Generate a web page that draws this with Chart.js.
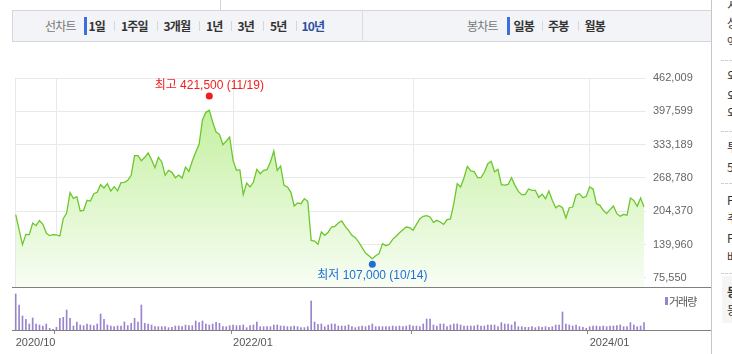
<!DOCTYPE html>
<html lang="ko">
<head>
<meta charset="utf-8">
<title>주가 차트</title>
<script src="https://cdn.jsdelivr.net/npm/chart.js@4.4.1/dist/chart.umd.min.js"></script>
<style>
  html, body { margin: 0; padding: 0; background: #fff; }
  body { width: 732px; height: 354px; overflow: hidden; position: relative;
         font-family: "Noto Sans CJK KR", "Liberation Sans", sans-serif; }
  .abs { position: absolute; }
  .tabbar { left: 12px; top: 10px; width: 700px; height: 32px; box-sizing: border-box;
            border: 1px solid #d3d6dc; background: #f3f4f7; }
  .tab { top: 10px; line-height: 32px; font-size: 12px; font-weight: bold; color: #333;
         letter-spacing: -0.8px; white-space: nowrap; }
  .tab.title { font-weight: normal; color: #777; }
  .tab.on { color: #2f4ea3; }
  .sep { top: 21px; width: 1px; height: 10px; background: #d6d6d6; }
  .mark { top: 17px; width: 3px; height: 18px; background: #3b6fd9; }
  .side { left: 727px; font-size: 12px; color: #333; line-height: 16px; white-space: nowrap; }
  .dash { left: 721px; width: 11px; height: 0; border-top: 1px dashed #cfcfcf; }
  .hline { left: 12px; width: 699px; height: 1px; background: #808080; }
  #priceWrap { left: 0; top: 44px; width: 711px; height: 310px; }
  #volWrap { left: 0; top: 288px; width: 711px; height: 66px; }
  canvas { display: block; }
</style>
</head>
<body>
<div class="abs" style="left:220px;top:0;width:1px;height:10px;background:#d6d6d6"></div>
<div class="abs tabbar"></div>
<div class="abs" style="left:362px;top:10px;width:1px;height:32px;background:#dcdde1"></div>

<span class="abs tab title" style="left:45px">선차트</span>
<div class="abs mark" style="left:84px"></div>
<span class="abs tab" style="left:88.5px">1일</span>
<div class="abs sep" style="left:114px"></div>
<span class="abs tab" style="left:121px">1주일</span>
<div class="abs sep" style="left:157px"></div>
<span class="abs tab" style="left:163.5px">3개월</span>
<div class="abs sep" style="left:199px"></div>
<span class="abs tab" style="left:206px">1년</span>
<div class="abs sep" style="left:231px"></div>
<span class="abs tab" style="left:237.5px">3년</span>
<div class="abs sep" style="left:263px"></div>
<span class="abs tab" style="left:270px">5년</span>
<div class="abs sep" style="left:296px"></div>
<span class="abs tab on" style="left:301.5px">10년</span>

<span class="abs tab title" style="left:467px">봉차트</span>
<div class="abs mark" style="left:507px"></div>
<span class="abs tab" style="left:513.5px">일봉</span>
<div class="abs sep" style="left:542px"></div>
<span class="abs tab" style="left:548px">주봉</span>
<div class="abs sep" style="left:578px"></div>
<span class="abs tab" style="left:584.5px">월봉</span>

<div class="abs" style="left:711px;top:0;width:1px;height:354px;background:#c6c6c6"></div>
<div class="abs" style="left:722px;top:276px;width:10px;height:47px;background:#f5f5f5"></div>
<div class="abs side" style="top:-3px">시가총액순위</div>
<div class="abs side" style="top:15px">상장주식수</div>
<div class="abs side" style="top:34px">액면가</div>
<div class="abs dash" style="top:60px"></div>
<div class="abs side" style="top:68px">외국인한도주식수</div>
<div class="abs side" style="top:88px">외국인보유주식수</div>
<div class="abs side" style="top:105px">외국인소진율</div>
<div class="abs dash" style="top:131px"></div>
<div class="abs side" style="top:139px">투자의견</div>
<div class="abs side" style="top:159px">52주최고</div>
<div class="abs dash" style="top:183px"></div>
<div class="abs side" style="top:192px">PER</div>
<div class="abs side" style="top:210px">추정PER</div>
<div class="abs side" style="top:230px">PBR</div>
<div class="abs side" style="top:249px">배당수익률</div>
<div class="abs dash" style="top:273px"></div>
<div class="abs side" style="top:284px;font-weight:bold">동일업종 PER</div>
<div class="abs side" style="top:302px">동일업종 등락률</div>

<div class="abs" id="priceWrap"><canvas id="priceChart" width="711" height="310"></canvas></div>
<div class="abs" id="volWrap"><canvas id="volChart" width="711" height="66"></canvas></div>
<div class="abs hline" style="top:287px"></div>
<div class="abs hline" style="top:330px"></div>
<div class="abs" style="left:665px;top:297px;width:3px;height:8px;background:#9a84cc"></div>
<span class="abs" style="left:669px;top:293px;line-height:16px;font-size:11px;color:#555;letter-spacing:-1px">거래량</span>

<script>
// weekly close, from the week of 2020-10-12
const prices = [
    197900, 168900, 140000, 159900, 159300, 181800, 176700, 186400, 179300, 162500,
    157400, 159300, 158700, 156700, 190200, 201100, 240400, 229500, 232700, 205000,
    206300, 225600, 224300, 238500, 241100, 255900, 249500, 257900, 243700, 252000,
    244000, 259800, 260400, 264300, 273900, 311900, 311900, 302300, 308700, 317100,
    304200, 288700, 308700, 300300, 274000, 283600, 279700, 269400, 274600, 268800,
    290000, 281700, 301600, 318400, 333800, 381500, 395700, 399500, 377000, 357700,
    353200, 333200, 340300, 348000, 302900, 283600, 284900, 236600, 259100, 251400,
    261000, 285500, 277000, 283600, 284900, 299700, 320900, 283600, 292000, 254600,
    251400, 241700, 214700, 220500, 219200, 228800, 223700, 148300, 147000, 140600,
    164400, 158000, 164000, 174100, 175400, 181800, 185700, 175400, 167700, 158000,
    153500, 145100, 134200, 123900, 118700, 113000, 118700, 122600, 141900, 138000,
    140600, 150300, 156100, 163100, 168900, 174100, 172800, 167700, 179300, 190200,
    194700, 196000, 193400, 183100, 187000, 183800, 179300, 188300, 189600, 219200,
    258000, 251400, 269400, 291300, 282300, 281000, 269400, 269400, 280400, 296500,
    301000, 281000, 285500, 255900, 255200, 256500, 269400, 254600, 243000, 236600,
    236600, 247500, 245000, 245000, 231400, 237500, 228800, 243700, 225600, 211400,
    215800, 211400, 191500, 211400, 212700, 235900, 238500, 230800, 233400, 251400,
    247500, 219200, 216000, 206300, 199900, 207600, 214700, 199900, 194700, 198600,
    196700, 230100, 225600, 214000, 230100, 212700
];

// weekly volume (만주)
const volumes = [
    1260, 875, 490, 373, 210, 420, 210, 175, 140, 210,
    58, 23, 93, 408, 443, 700, 408, 140, 280, 175,
    152, 210, 175, 152, 210, 560, 373, 175, 140, 117,
    140, 140, 280, 152, 233, 408, 280, 875, 233, 210,
    175, 117, 117, 117, 117, 82, 93, 140, 140, 117,
    175, 152, 152, 315, 257, 315, 210, 175, 210, 268,
    233, 117, 117, 152, 175, 152, 152, 175, 82, 152,
    175, 280, 117, 117, 117, 117, 175, 175, 140, 140,
    117, 117, 140, 117, 82, 82, 117, 1015, 280, 198,
    210, 117, 175, 210, 210, 140, 140, 140, 175, 117,
    82, 117, 140, 117, 152, 210, 117, 117, 117, 117,
    117, 140, 117, 140, 117, 140, 175, 140, 140, 117,
    210, 385, 385, 175, 140, 210, 210, 117, 175, 210,
    210, 175, 140, 140, 140, 140, 175, 140, 140, 175,
    175, 175, 117, 257, 210, 210, 175, 290, 117, 117,
    95, 95, 117, 82, 117, 95, 117, 95, 117, 175,
    175, 630, 210, 175, 140, 175, 117, 95, 58, 117,
    140, 140, 117, 140, 117, 140, 140, 152, 175, 117,
    117, 257, 175, 117, 140, 257
];

const yTickValues = [75550, 139960, 204370, 268780, 333189, 397599, 462009];
const yMin = 58158;
const yMax = 462009;

const xTickIdx = [0, 64, 169];
const xTickText = ['2020/10', '2022/01', '2024/01'];
const yearLineIdx = [0, 12, 64, 117, 169];

const highPrice = 421500;
const highText = '최고 421,500 (11/19)';
const lowPrice = 107000;
const lowText = '최저 107,000 (10/14)';

const startWeek = new Date(2020, 9, 12);
const weeks = prices.map((_, i) => {
    const d = new Date(startWeek);
    d.setDate(d.getDate() + 7 * i);
    return `${d.getFullYear()}/${String(d.getMonth() + 1).padStart(2, '0')}/${String(d.getDate()).padStart(2, '0')}`;
});

const tickFont = { family: '"Liberation Sans", Arial, sans-serif', size: 11 };
const gridColor = '#e9e9e9';

// 최고/최저 marker
const extremes = {
    id: 'extremes',
    afterDatasetsDraw(chart) {
        const { ctx, scales: { x, y } } = chart;
        const hiIdx = prices.indexOf(Math.max(...prices));
        const loIdx = prices.indexOf(Math.min(...prices));
        ctx.save();
        ctx.font = '12px "Liberation Sans", "Noto Sans CJK KR", sans-serif';
        ctx.textAlign = 'center';
        ctx.textBaseline = 'middle';

        let px = x.getPixelForValue(hiIdx);
        let py = y.getPixelForValue(highPrice) - 3;
        ctx.fillStyle = '#f01e1e';
        ctx.beginPath();
        ctx.arc(px, py, 3.5, 0, Math.PI * 2);
        ctx.fill();
        ctx.fillText(highText, px, py - 10.5);

        px = x.getPixelForValue(loIdx);
        py = y.getPixelForValue(lowPrice) + 2.5;
        ctx.fillStyle = '#1f6fd8';
        ctx.beginPath();
        ctx.arc(px, py, 3.5, 0, Math.PI * 2);
        ctx.fill();
        ctx.fillText(lowText, px, py + 11);
        ctx.restore();
    }
};

new Chart(document.getElementById('priceChart'), {
    type: 'line',
    data: {
        labels: weeks,
        datasets: [{
            data: prices,
            borderColor: '#6cc72c',
            borderWidth: 1.3,
            pointRadius: 0,
            tension: 0,
            fill: 'start',
            backgroundColor: (c) => {
                const { ctx, chartArea } = c.chart;
                if (!chartArea) return 'rgba(0,0,0,0)';
                const g = ctx.createLinearGradient(0, chartArea.top, 0, chartArea.bottom);
                g.addColorStop(0, '#bbee92');
                g.addColorStop(1, '#f8fdf4');
                return g;
            }
        }]
    },
    options: {
        responsive: false,
        animation: false,
        layout: { padding: { left: 15.7, top: 34, bottom: 67, right: 0 } },
        plugins: { legend: { display: false }, tooltip: { enabled: false } },
        scales: {
            x: {
                ticks: { display: false, autoSkip: false },
                grid: {
                    drawTicks: false,
                    color: (c) => yearLineIdx.includes(c.index) ? gridColor : 'rgba(0,0,0,0)'
                },
                border: { display: false }
            },
            y: {
                position: 'right',
                min: yMin,
                max: yMax,
                afterBuildTicks: (axis) => { axis.ticks = yTickValues.map(v => ({ value: v })); },
                afterFit: (axis) => { axis.width = 67; },
                ticks: {
                    padding: 7,
                    color: '#666',
                    font: tickFont,
                    callback: (v) => Number(v).toLocaleString('en-US')
                },
                grid: { color: gridColor, tickLength: 2 },
                border: { display: false }
            }
        }
    },
    plugins: [extremes]
});

new Chart(document.getElementById('volChart'), {
    type: 'bar',
    data: {
        labels: weeks,
        datasets: [{
            data: volumes,
            backgroundColor: '#9a84cc',
            barThickness: 1,
            clip: false
        }]
    },
    options: {
        responsive: false,
        animation: false,
        layout: { padding: { left: 15.7, top: 6, bottom: 0, right: 67 } },
        plugins: { legend: { display: false }, tooltip: { enabled: false } },
        scales: {
            x: {
                offset: false,
                afterFit: (axis) => { axis.height = 24; },
                ticks: {
                    autoSkip: false,
                    maxRotation: 0,
                    minRotation: 0,
                    align: 'start',
                    padding: 2,
                    color: '#555',
                    font: tickFont,
                    callback: (v, i) => {
                        const k = xTickIdx.indexOf(i);
                        return k >= 0 ? xTickText[k] : '';
                    }
                },
                grid: {
                    drawOnChartArea: false,
                    tickLength: 4,
                    color: (c) => yearLineIdx.includes(c.index) ? '#888' : 'rgba(0,0,0,0)'
                },
                border: { display: false }
            },
            y: {
                display: false,
                min: 0,
                max: Math.max(...volumes)
            }
        }
    }
});
</script>
</body>
</html>
